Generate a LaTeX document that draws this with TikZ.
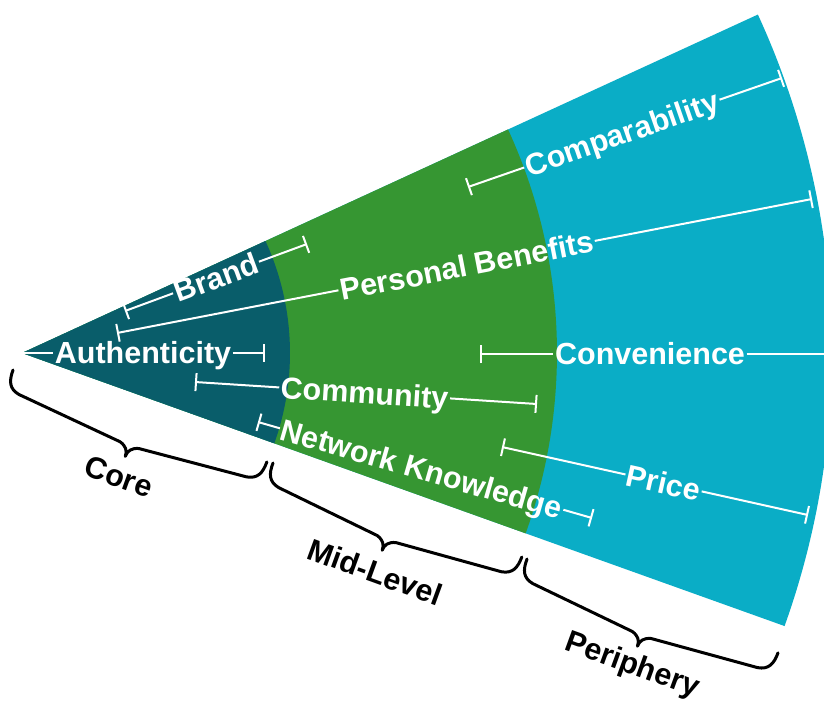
\documentclass[tikz,border=0pt]{standalone}
\usepackage{fontspec}
\setmainfont{Liberation Sans}
\usetikzlibrary{arrows.meta}
\definecolor{coreC}{RGB}{9,93,106}
\definecolor{midC}{RGB}{54,150,50}
\definecolor{periC}{RGB}{10,173,198}
\tikzset{
  conn/.style={draw=white, line width=2pt},
  lbar/.style={arrows={Bar[width=18pt]-}},
  rbar/.style={arrows={-Bar[width=18pt]}},
  lab/.style={text=white, font=\fontsize{30.5}{36}\selectfont\bfseries, inner sep=0pt, inner xsep=1.5pt, text height=21.5pt, text depth=0pt, sloped},
  tier/.style={text=black, font=\fontsize{30.5}{36}\selectfont\bfseries, inner sep=0pt, rotate=-20},
  bracestyle/.style={draw=black, line width=3pt, line cap=round, line join=round},
  pics/bracepic/.style={code={
    \draw[bracestyle] (0,0) .. controls (0,-12) and (3,-19) .. (14,-21)
      -- ({#1/2-10},-31) .. controls ({#1/2-3},-33) and ({#1/2},-37) .. ({#1/2},-43)
      .. controls ({#1/2},-37) and ({#1/2+3},-33) .. ({#1/2+10},-31)
      -- ({#1-14},-21) .. controls ({#1-3},-19) and ({#1},-12) .. ({#1},0);
  }},
}
\begin{document}
\begin{tikzpicture}[x=1pt,y=1pt]
\useasboundingbox (0,0) rectangle (824,-702);
\clip (0,0) rectangle (824,-702);
\coordinate (A) at (22,-353);
% fan sectors
\fill[periC] (A) -- ++(24.7:810) arc[start angle=24.7, end angle=-19.7, radius=810] -- cycle;
\fill[midC] (A) -- ++(24.7:535) arc[start angle=24.7, end angle=-19.7, radius=535] -- cycle;
\fill[coreC] (A) -- ++(24.7:268) arc[start angle=24.7, end angle=-19.7, radius=268] -- cycle;
% Brand
\coordinate (brL) at (125,-311);
\coordinate (brR) at (307,-244);
\path (brL) -- (brR) node[lab, pos=0.5] (brand) {Brand};
\draw[conn, lbar] (brL) -- (brand.west);
\draw[conn, rbar] (brand.east) -- (brR);
% Personal Benefits
\coordinate (pbL) at (117,-333);
\coordinate (pbR) at (812,-199);
\path (pbL) -- (pbR) node[lab, pos=0.503] (pben) {Personal Benefits};
\draw[conn, lbar] (pbL) -- (pben.west);
\draw[conn, rbar] (pben.east) -- (pbR);
% Comparability
\coordinate (cpL) at (468,-187);
\coordinate (cpR) at (782,-78);
\path (cpL) -- (cpR) node[lab, pos=0.49] (comp) {Comparability};
\draw[conn, lbar] (cpL) -- (comp.west);
\draw[conn, rbar] (comp.east) -- (cpR);
% Authenticity
\coordinate (auR) at (265,-353);
\path (A) -- (auR) node[lab, pos=0.498] (auth) {Authenticity};
\draw[conn] (A) -- (auth.west);
\draw[conn, rbar] (auth.east) -- (auR);
% Community
\coordinate (cmL) at (195,-382);
\coordinate (cmR) at (537,-404);
\path (cmL) -- (cmR) node[lab, pos=0.496] (comm) {Community};
\draw[conn, lbar] (cmL) -- (comm.west);
\draw[conn, rbar] (comm.east) -- (cmR);
% Network Knowledge
\coordinate (nkL) at (258,-422);
\coordinate (nkR) at (592,-518);
\path (nkL) -- (nkR) node[lab, pos=0.49] (netk) {Network Knowledge};
\draw[conn, lbar] (nkL) -- (netk.west);
\draw[conn, rbar] (netk.east) -- (nkR);
% Convenience
\coordinate (cvL) at (480,-354);
\coordinate (cvR) at (832,-354);
\path (cvL) -- (cvR) node[lab, pos=0.483] (conv) {Convenience};
\draw[conn, lbar] (cvL) -- (conv.west);
\draw[conn, rbar] (conv.east) -- (cvR);
% Price
\coordinate (prL) at (502,-447);
\coordinate (prR) at (808,-515);
\path (prL) -- (prR) node[lab, pos=0.528] (price) {Price};
\draw[conn, lbar] (prL) -- (price.west);
\draw[conn, rbar] (price.east) -- (prR);
% braces
\pic[rotate=-19.9] at (13,-370) {bracepic=270};
\pic[rotate=-20.7] at (273,-463) {bracepic=266};
\pic[rotate=-20.5] at (527,-559) {bracepic=268};
% tier labels
\node[tier] (core) at (119,-477) {Core};
\node[tier] (mid) at (375,-572) {Mid-Level};
\node[tier] (peri) at (632,-666) {Periphery};
\end{tikzpicture}
\end{document}
